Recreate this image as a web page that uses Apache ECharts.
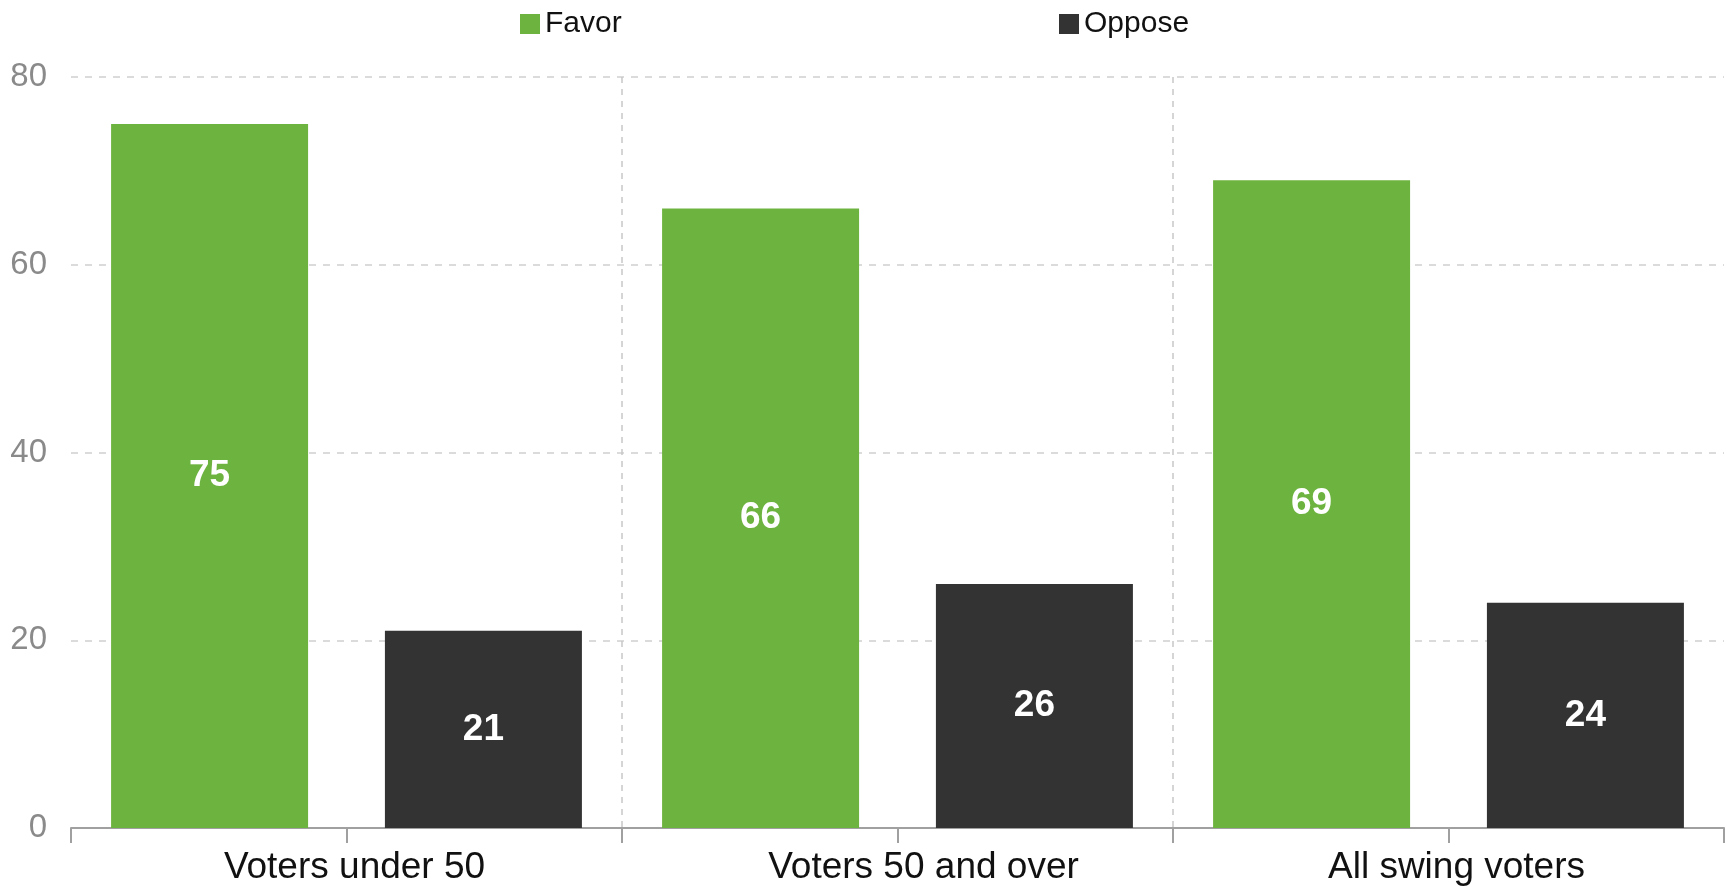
<!DOCTYPE html>
<html>
<head>
<meta charset="utf-8">
<style>html,body{margin:0;padding:0;background:#fff;}#chart{width:1732px;height:888px;}</style>
<script src="https://cdn.jsdelivr.net/npm/echarts@6/dist/echarts.min.js"></script>
</head>
<body>
<div id="chart"></div>
<script>
const categories = ['Voters under 50', 'Voters 50 and over', 'All swing voters'];
const favor = [75, 66, 69];
const oppose = [21, 26, 24];
const yTicks = [0, 20, 40, 60, 80];
const seriesNames = ['Favor', 'Oppose'];

const chart = echarts.init(document.getElementById('chart'));
const font = 'Liberation Sans, Arial, Helvetica, sans-serif';
const tickSlots = categories.flatMap(c => [c + ' a', c + ' b']);
const labelShift = [16, 52, 16];

chart.setOption({
  animation: false,
  textStyle: { fontFamily: font },
  legend: [
    { data: [seriesNames[0]], left: 515, top: 4, itemWidth: 20, itemHeight: 20, itemGap: 0,
      icon: 'rect', textStyle: { fontSize: 30, color: '#111', fontFamily: font } },
    { data: [seriesNames[1]], left: 1054, top: 4, itemWidth: 20, itemHeight: 20, itemGap: 0,
      icon: 'rect', textStyle: { fontSize: 30, color: '#111', fontFamily: font } }
  ],
  grid: { left: 71, right: 8, top: 77, bottom: 60, containLabel: false },
  xAxis: [
    {
      type: 'category', position: 'bottom',
      data: categories.map((c, i) => ({ value: c, textStyle: { padding: [0, 0, 0, labelShift[i]] } })),
      axisLine: { show: true, lineStyle: { color: '#a0a0a0', width: 2 } },
      axisTick: { show: false },
      axisLabel: { fontSize: 37, color: '#111', margin: 21, fontFamily: font },
      splitLine: { show: true, showMinLine: false, showMaxLine: false,
        lineStyle: { color: '#c8c8c8', type: [6, 6], width: 1.5 } }
    },
    {
      type: 'category', data: tickSlots, position: 'bottom',
      axisLine: { show: false },
      axisTick: { show: true, length: 15, lineStyle: { color: '#a0a0a0', width: 2 } },
      axisLabel: { show: false },
      splitLine: { show: false }
    }
  ],
  yAxis: {
    type: 'value', min: yTicks[0], max: yTicks[yTicks.length - 1], interval: yTicks[1] - yTicks[0],
    axisLine: { show: false }, axisTick: { show: false },
    axisLabel: { fontSize: 33, color: '#8a8a8a', margin: 24, fontFamily: font },
    splitLine: { show: true, lineStyle: { color: '#cfcfcf', type: [7, 7], width: 1.5 } }
  },
  series: [
    {
      name: seriesNames[0], type: 'bar', data: favor, xAxisIndex: 0,
      barWidth: 197, barGap: '39%',
      itemStyle: { color: '#6db33f' },
      label: { show: true, position: 'inside', color: '#fff', fontSize: 37, fontWeight: 'bold', fontFamily: font }
    },
    {
      name: seriesNames[1], type: 'bar', data: oppose, xAxisIndex: 0,
      barWidth: 197, barGap: '39%',
      itemStyle: { color: '#333333' },
      label: { show: true, position: 'inside', color: '#fff', fontSize: 37, fontWeight: 'bold', fontFamily: font }
    }
  ]
});
</script>
</body>
</html>
